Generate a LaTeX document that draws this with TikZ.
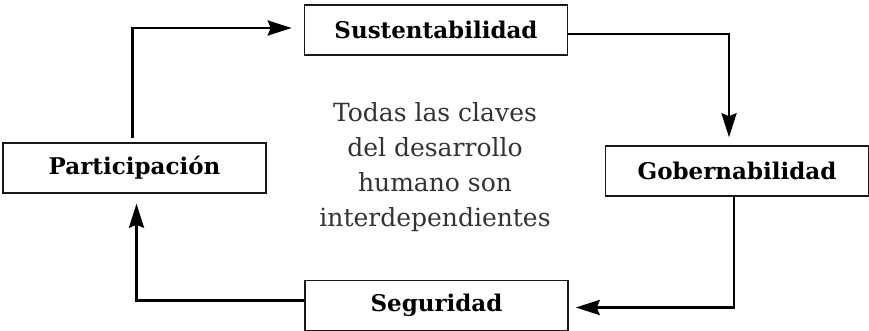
\documentclass[tikz,border=0pt]{standalone}
\usepackage{fontspec}
\setmainfont{DejaVu Serif}
\usetikzlibrary{arrows.meta}
\begin{document}
\begin{tikzpicture}[x=1pt,y=-1pt,
  box/.style={draw=black!90,line width=1.5pt,rectangle,minimum width=263pt,minimum height=50pt,inner sep=0pt,font=\fontsize{23}{26}\selectfont\bfseries},
  flow/.style={line width=2.8pt,-{Stealth[length=24pt,width=15pt,inset=3pt]}}]
\useasboundingbox (0,0) rectangle (869,331);
\node[box] (sus) at (436,30) {Sustentabilidad};
\node[box] (gob) at (737,171) {Gobernabilidad};
\node[box] (seg) at (436.5,305.5) {Seguridad};
\node[box] (par) at (134.5,168) {Participación};
\node[align=center,text=black!80,font=\fontsize{25}{35}\selectfont] (txt) at (435,167) {Todas las claves\\del desarrollo\\humano son\\interdependientes};
\draw[flow,shorten <=4pt,shorten >=12pt] ([xshift=-2pt]par.north) |- ([yshift=2pt]sus.west);
\draw[flow,shorten >=8pt] ([yshift=-4pt]sus.east) -| ([xshift=-8pt]gob.north);
\draw[flow,shorten >=7pt] ([xshift=-3pt]gob.south) |- ([yshift=-2pt]seg.east);
\draw[flow,shorten >=10pt] ([yshift=5pt]seg.west) -| ([xshift=2pt]par.south);
\end{tikzpicture}
\end{document}
